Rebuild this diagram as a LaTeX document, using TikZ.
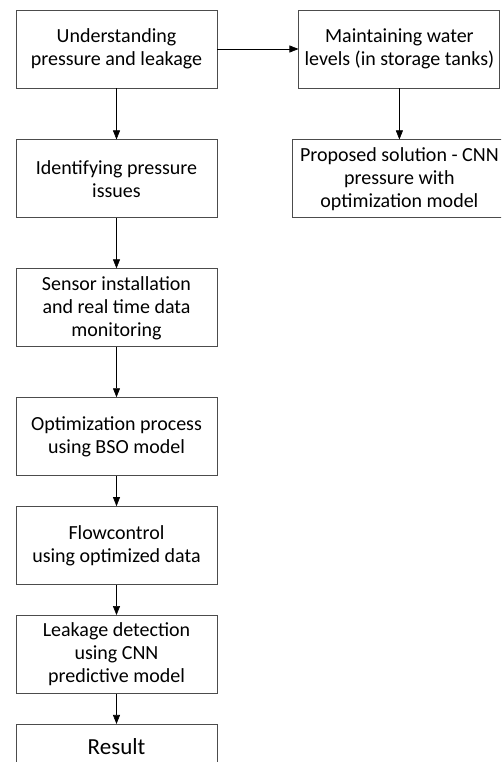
\documentclass[tikz,border=0pt]{standalone}
\usepackage{fontspec}
\setmainfont{Carlito}
\usetikzlibrary{positioning,arrows.meta}

\begin{document}
\begin{tikzpicture}[->,>={Stealth[length=9pt,width=7pt,inset=0pt]},x=1pt,y=-1pt,
                    node distance=50pt,semithick]
  \tikzstyle{block}=[draw=black!70,line width=0.9pt,text=black,
                     minimum width=201pt,minimum height=78pt,align=center,
                     inner sep=2pt,font=\fontsize{20}{23}\selectfont]
  \clip[-] (0,0) rectangle (501,762);

  \node[block] (U) at (116.5,49)      {Understanding\\pressure and leakage};
  \node[block] (I) [below=51pt of U]  {Identifying pressure\\issues};
  \node[block] (S) [below=of I]       {Sensor installation\\and real time data\\monitoring};
  \node[block] (O) [below=of S]       {Optimization process\\using BSO model};
  \node[block] (F) [below=30pt of O]  {Flowcontrol\\using optimized data};
  \node[block] (L) [below=30pt of F]  {Leakage detection\\using CNN\\predictive model};
  \node[block,minimum height=44pt,font=\fontsize{23}{27}\selectfont]
               (R) [below=30pt of L]  {Result};

  \node[block] (M) [right=81pt of U]  {Maintaining water\\levels (in storage tanks)};
  \node[block,minimum width=214pt]
               (P) [below=51pt of M]  {Proposed solution - CNN\\pressure with\\optimization model};

  \path (U) edge (I)
        (I) edge (S)
        (S) edge (O)
        (O) edge (F)
        (F) edge (L)
        (L) edge (R)
        (U) edge (M)
        (M) edge (P);
\end{tikzpicture}
\end{document}
